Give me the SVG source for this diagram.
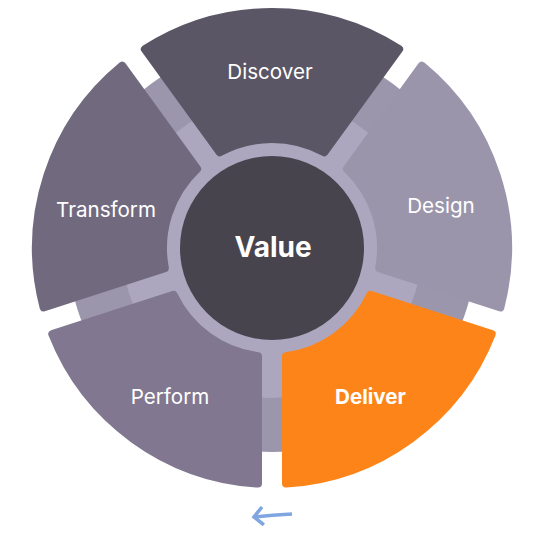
<svg xmlns="http://www.w3.org/2000/svg" width="536" height="536" viewBox="0 0 536 536">
<style>
.seg{stroke-width:8;stroke-linejoin:round}
.lbl{font-family:Inter,"Noto Sans","Liberation Sans",sans-serif;font-size:20.6px;fill:#ffffff;text-anchor:middle}
.b{font-weight:700}
</style>
<defs>
<marker id="ah" viewBox="0 0 16 22" refX="13" refY="11" markerWidth="16" markerHeight="22" markerUnits="userSpaceOnUse" orient="auto">
<path d="M3,2 L12,11 L3,20" fill="none" stroke="#7fa6e0" stroke-width="3.5" stroke-linecap="butt" stroke-linejoin="miter"/>
</marker>
</defs>
<rect width="536" height="536" fill="#ffffff"/>
<g id="ring">
<circle cx="272" cy="248" r="204" fill="#9c96ad"/>
<circle cx="272" cy="248" r="150" fill="#aca7bf"/>
</g>
<g id="discover">
<path class="seg" fill="#5b5665" stroke="#5b5665" d="M144.86,49.18 A236,236 0 0 1 399.14,49.18 L324.21,152.32 A109,109 0 0 0 219.79,152.32 Z"/>
<text class="lbl" x="270" y="79">Discover</text>
</g>
<g id="design">
<path class="seg" fill="#9b95ac" stroke="#9b95ac" d="M421.80,65.64 A236,236 0 0 1 500.38,307.49 L379.14,268.10 A109,109 0 0 0 346.87,168.78 Z"/>
<text class="lbl" x="441" y="213">Design</text>
</g>
<g id="deliver">
<path class="seg" fill="#fd8418" stroke="#fd8418" d="M491.72,334.11 A236,236 0 0 1 286,483.58 L286,356.10 A109,109 0 0 0 370.48,294.72 Z"/>
<text class="lbl b" x="370.5" y="404">Deliver</text>
</g>
<g id="perform">
<path class="seg" fill="#817790" stroke="#817790" d="M258,483.58 A236,236 0 0 1 52.28,334.11 L173.52,294.72 A109,109 0 0 0 258,356.10 Z"/>
<text class="lbl" x="170" y="404">Perform</text>
</g>
<g id="transform">
<path class="seg" fill="#716a7f" stroke="#716a7f" d="M43.62,307.49 A236,236 0 0 1 122.20,65.64 L197.13,168.78 A109,109 0 0 0 164.86,268.10 Z"/>
<text class="lbl" x="106" y="217">Transform</text>
</g>
<g id="value">
<circle cx="272" cy="248" r="92" fill="#48444d"/>
<text class="lbl b" x="273" y="257" style="font-size:28px">Value</text>
</g>
<g id="connectors">
<path d="M292,514 Q272,515 253,517" fill="none" stroke="#7fa6e0" stroke-width="3.5" stroke-linecap="butt" marker-end="url(#ah)"/>
</g>
</svg>
